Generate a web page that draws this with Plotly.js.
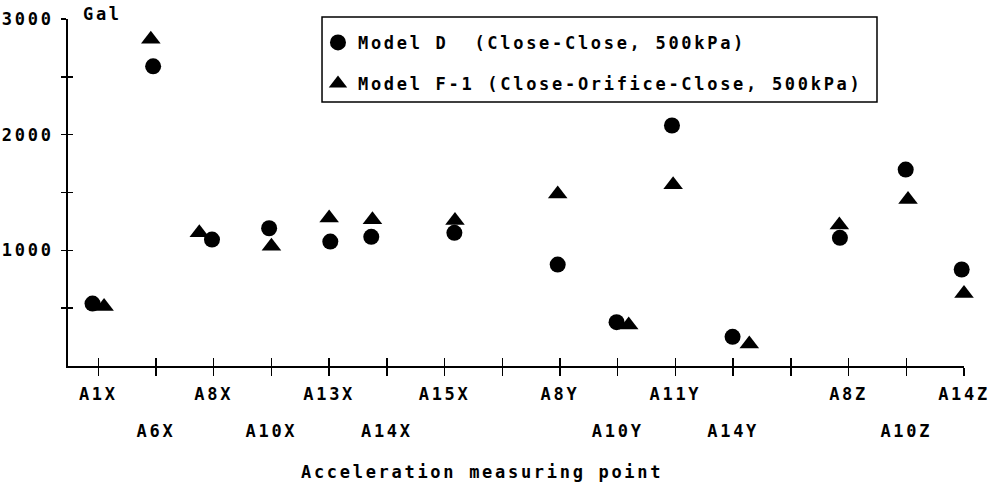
<!DOCTYPE html>
<html><head><meta charset="utf-8">
<script src="https://cdn.plot.ly/plotly-3.0.1.min.js"></script>
<style>
html,body{margin:0;padding:0;background:#fff;}
#chart{width:991px;height:487px;}
text{letter-spacing:2.7px;}
</style></head><body><div id="chart"></div>
<script>
// tick positions (category slots) along the x axis
const tickSlots = [0,1,2,3,4,5,6,7,8,9,10,11,12,13,14,15];
const tickLabelsRow1 = ['A1X','','A8X','','A13X','','A15X','','A8Y','','A11Y','','','A8Z','','A14Z'];
const tickLabelsRow2 = ['','A6X','','A10X','','A14X','','','','A10Y','','A14Y','','','A10Z',''];
const yTickVals = [500,1000,1500,2000,2500,3000];
const yTickText = ['','1000','','2000','','3000'];

// measured points
const pointCats = ['A1X','A6X','A8X','A10X','A13X','A14X','A15X','A8Y','A10Y','A11Y','A14Y','A8Z','A10Z','A14Z'];
const xModelD  = [-0.10, 0.95, 1.97, 2.96, 4.02, 4.73, 6.17, 7.96, 8.98, 9.94, 10.99, 12.85, 13.99, 14.96];
const modelD   = [540, 2591, 1093, 1191, 1076, 1117, 1151, 877, 379, 2079, 252, 1108, 1698, 834];
const xModelF1 = [0.10, 0.91, 1.75, 3.00, 4.00, 4.75, 6.18, 7.96, 9.19, 9.96, 11.28, 12.84, 14.03, 15.00];
const modelF1  = [514, 2825, 1151, 1035, 1279, 1264, 1259, 1487, 354, 1568, 190, 1218, 1439, 627];

const FONT = {family:'"DejaVu Sans Mono", monospace', size:17, color:'#000', weight:'bold'};
const xRange = [-0.525, 15];
const yRange = [0, 3000];

const traces = [
  {type:'scatter', mode:'markers', name:'Model D\u00a0\u00a0(Close-Close, 500kPa)',
   x:xModelD, y:modelD, text:pointCats, legendgroup:'a', cliponaxis:false,
   marker:{symbol:'circle', size:16, color:'#000'}},
  {type:'scatter', mode:'markers', name:'Model F-1 (Close-Orifice-Close, 500kPa)',
   x:xModelF1, y:modelF1, text:pointCats, legendgroup:'b', cliponaxis:false,
   marker:{symbol:'triangle-up', size:17, color:'#000'}}
];

const layout = {
  width:991, height:487,
  margin:{l:68, r:27, t:19, b:121},
  paper_bgcolor:'#fff', plot_bgcolor:'#fff',
  font:FONT,
  showlegend:true,
  legend:{x:0.279, y:0.983, xanchor:'left', yanchor:'top',
          borderwidth:0, bgcolor:'rgba(0,0,0,0)',
          font:FONT, traceorder:'grouped', tracegroupgap:16},
  shapes:[
    {type:'rect', xref:'paper', yref:'paper', x0:0.2835, x1:0.9029, y0:0.7608, y1:1.0058,
     line:{color:'#000', width:1.5}, fillcolor:'rgba(0,0,0,0)', layer:'above'}
  ],
  xaxis:{range:xRange, tickmode:'array', tickvals:tickSlots, ticktext:tickLabelsRow1,
         ticks:'outside', ticklen:8, tickwidth:1.5, tickcolor:'#000',
         showline:true, linewidth:2, linecolor:'#000', showgrid:false, zeroline:false,
         tickfont:FONT, ticklabelstandoff:4},
  xaxis2:{range:xRange, overlaying:'x', anchor:'y', side:'bottom', tickmode:'array',
         tickvals:tickSlots, ticktext:tickLabelsRow2,
         ticks:'inside', ticklen:8, tickwidth:1.5, tickcolor:'#000',
         showline:false, showgrid:false, zeroline:false,
         tickfont:FONT, ticklabelstandoff:53},
  yaxis:{range:yRange, tickmode:'array', tickvals:yTickVals, ticktext:yTickText,
         ticks:'outside', ticklen:5, tickwidth:1.5, tickcolor:'#000',
         showline:true, linewidth:2, linecolor:'#000', showgrid:false, zeroline:false,
         tickfont:FONT, ticklabelstandoff:4},
  yaxis2:{range:yRange, overlaying:'y', anchor:'x', side:'left', tickmode:'array',
         tickvals:yTickVals, ticktext:yTickVals.map(()=>''),
         ticks:'inside', ticklen:5, tickwidth:1.5, tickcolor:'#000',
         showline:false, showgrid:false, zeroline:false, showticklabels:false},
  annotations:[
    {text:'Gal', xref:'paper', yref:'paper', x:0, y:1, xshift:13, yshift:5,
     xanchor:'left', yanchor:'middle', showarrow:false, font:FONT},
    {text:'Acceleration measuring point', xref:'paper', yref:'paper', x:0.4626, y:0, yshift:-106,
     xanchor:'center', yanchor:'middle', showarrow:false, font:FONT}
  ]
};

// invisible helper trace so the overlay axes are drawn
traces.push({type:'scatter', mode:'markers', x:[xRange[0]], y:[yRange[0]], xaxis:'x2', yaxis:'y2',
             marker:{opacity:0}, showlegend:false, hoverinfo:'skip'});

Plotly.newPlot('chart', traces, layout, {staticPlot:true, displayModeBar:false});
</script></body></html>
